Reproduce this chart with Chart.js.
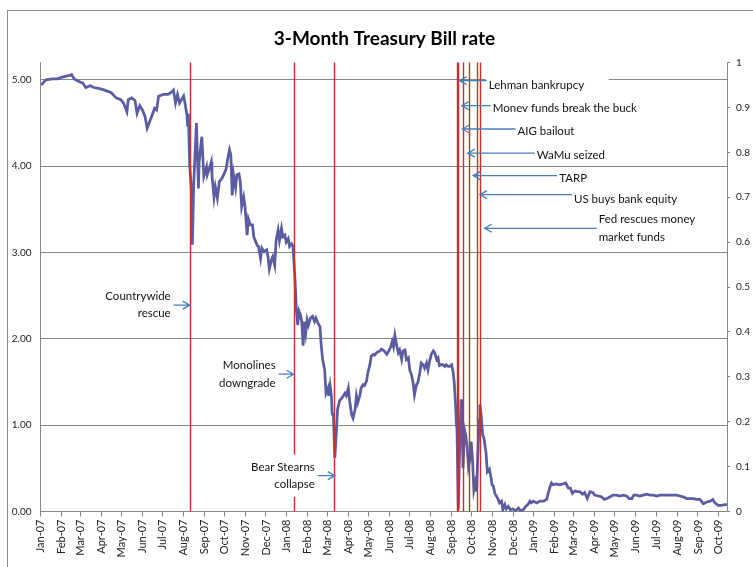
<!DOCTYPE html>
<html>
<head>
<meta charset="utf-8">
<title>3-Month Treasury Bill rate</title>
<script src="https://cdn.jsdelivr.net/npm/chart.js@4.4.0/dist/chart.umd.min.js"></script>
<style>
  html, body { margin: 0; padding: 0; background: #fff; }
  #wrap { width: 753px; height: 567px; }
</style>
</head>
<body>
<div id="wrap"><canvas id="chart" width="753" height="567"></canvas></div>
<script>
// data (weekly-ish samples of the daily series)
const dates = [
  "2007-01-02","2007-01-09","2007-01-19","2007-01-26","2007-02-02","2007-02-13","2007-02-16","2007-02-20","2007-02-27",
  "2007-03-05","2007-03-09","2007-03-16","2007-03-21","2007-03-28","2007-04-06","2007-04-16","2007-04-23","2007-04-30",
  "2007-05-04","2007-05-09","2007-05-11","2007-05-16","2007-05-21","2007-05-24","2007-05-28","2007-06-01","2007-06-05",
  "2007-06-08","2007-06-14","2007-06-19","2007-06-22","2007-06-25","2007-07-02","2007-07-09","2007-07-13","2007-07-17",
  "2007-07-20","2007-07-23","2007-07-26","2007-08-01","2007-08-03","2007-08-06","2007-08-07","2007-08-08","2007-08-10",
  "2007-08-13","2007-08-14","2007-08-16","2007-08-20","2007-08-23","2007-08-24","2007-08-28","2007-08-31","2007-09-04",
  "2007-09-05","2007-09-08","2007-09-11","2007-09-12","2007-09-15","2007-09-17","2007-09-20","2007-09-23","2007-09-27",
  "2007-10-01","2007-10-03","2007-10-06","2007-10-08","2007-10-10","2007-10-12","2007-10-14","2007-10-17","2007-10-19",
  "2007-10-22","2007-10-24","2007-10-26","2007-10-29","2007-10-31","2007-11-03","2007-11-05","2007-11-08","2007-11-11",
  "2007-11-13","2007-11-15","2007-11-18","2007-11-20","2007-11-23","2007-11-25","2007-11-28","2007-12-02","2007-12-04",
  "2007-12-06","2007-12-09","2007-12-11","2007-12-14","2007-12-16","2007-12-19","2007-12-21","2007-12-24","2007-12-26",
  "2007-12-29","2007-12-31",
  "2008-01-03","2008-01-05","2008-01-08","2008-01-10","2008-01-13","2008-01-15","2008-01-17","2008-01-19","2008-01-21",
  "2008-01-23","2008-01-25","2008-01-27","2008-01-29","2008-01-31","2008-02-02","2008-02-05","2008-02-08","2008-02-11",
  "2008-02-13","2008-02-16","2008-02-19","2008-02-21","2008-02-23","2008-02-26","2008-02-28","2008-03-02","2008-03-03",
  "2008-03-05","2008-03-07","2008-03-08","2008-03-10","2008-03-12","2008-03-14","2008-03-16","2008-03-19","2008-03-23",
  "2008-03-27","2008-03-29","2008-04-01","2008-04-03","2008-04-06","2008-04-08","2008-04-11","2008-04-13","2008-04-15",
  "2008-04-18","2008-04-20","2008-04-23","2008-04-25","2008-04-28","2008-04-30","2008-05-03","2008-05-05","2008-05-08",
  "2008-05-10","2008-05-13","2008-05-18","2008-05-20","2008-05-24","2008-05-28","2008-05-31","2008-06-03","2008-06-05",
  "2008-06-07","2008-06-09","2008-06-11","2008-06-14","2008-06-16","2008-06-19","2008-06-21","2008-06-24","2008-06-26",
  "2008-06-29","2008-07-01","2008-07-04","2008-07-06","2008-07-08","2008-07-11","2008-07-13","2008-07-16","2008-07-18",
  "2008-07-21","2008-07-23","2008-07-26","2008-07-28","2008-07-31","2008-08-02","2008-08-05","2008-08-07","2008-08-10",
  "2008-08-12","2008-08-14","2008-08-17","2008-08-19","2008-08-22","2008-08-24","2008-08-27","2008-08-29","2008-09-01",
  "2008-09-03","2008-09-05","2008-09-07","2008-09-08","2008-09-09","2008-09-11","2008-09-13","2008-09-15","2008-09-16",
  "2008-09-18","2008-09-20","2008-09-22","2008-09-24","2008-09-26","2008-09-28","2008-09-30","2008-10-02","2008-10-04",
  "2008-10-06","2008-10-08","2008-10-10","2008-10-12","2008-10-13","2008-10-15","2008-10-17","2008-10-19","2008-10-22",
  "2008-10-24","2008-10-27","2008-10-29","2008-10-31","2008-11-02","2008-11-04","2008-11-07","2008-11-09","2008-11-11",
  "2008-11-14","2008-11-16","2008-11-19","2008-11-21","2008-11-24","2008-11-27","2008-12-01","2008-12-05","2008-12-09",
  "2008-12-12","2008-12-16","2008-12-20","2008-12-23","2008-12-26","2008-12-28","2008-12-31",
  "2009-01-05","2009-01-10","2009-01-15","2009-01-20","2009-01-22","2009-01-25","2009-01-27","2009-01-29","2009-02-03",
  "2009-02-08","2009-02-13","2009-02-17","2009-02-21","2009-02-24","2009-02-27","2009-03-03","2009-03-06","2009-03-10",
  "2009-03-14","2009-03-17","2009-03-21","2009-03-25","2009-03-29","2009-04-01","2009-04-06","2009-04-11","2009-04-15",
  "2009-04-19","2009-04-24","2009-04-28","2009-05-03","2009-05-08","2009-05-13","2009-05-18","2009-05-22","2009-05-26",
  "2009-05-29","2009-06-02","2009-06-07","2009-06-12","2009-06-17","2009-06-22","2009-06-27","2009-07-02","2009-07-07",
  "2009-07-12","2009-07-17","2009-07-21","2009-07-26","2009-07-31","2009-08-05","2009-08-10","2009-08-15","2009-08-20",
  "2009-08-25","2009-08-30","2009-09-04","2009-09-06","2009-09-09","2009-09-14","2009-09-19","2009-09-23","2009-09-26",
  "2009-10-01","2009-10-06","2009-10-11","2009-10-14"
];
const rates = [
  4.94,5.00,5.01,5.01,5.03,5.05,5.06,5.01,4.98,
  4.96,4.91,4.93,4.91,4.90,4.88,4.85,4.79,4.77,
  4.73,4.63,4.77,4.79,4.76,4.61,4.70,4.65,4.57,
  4.44,4.56,4.67,4.65,4.81,4.83,4.83,4.85,4.88,
  4.73,4.83,4.73,4.81,4.73,4.59,4.46,4.61,4.01,
  3.67,3.09,3.80,4.50,3.74,4.05,4.34,3.88,3.99,
  3.90,3.97,4.05,3.90,3.64,3.76,3.63,3.82,3.86,
  3.93,3.97,4.11,4.19,4.13,3.66,3.90,3.75,3.90,
  3.91,3.82,3.53,3.64,3.53,3.20,3.39,3.32,3.32,
  3.18,3.14,3.08,3.07,2.93,3.05,3.01,3.03,2.95,
  2.81,2.91,2.95,2.85,3.14,3.26,3.14,3.28,3.18,
  3.20,3.12,
  3.16,3.07,3.10,3.07,2.70,2.34,2.16,2.32,2.28,
  2.20,1.92,2.20,2.07,2.22,2.16,2.24,2.26,2.20,
  2.24,2.18,2.14,1.91,1.76,1.64,1.37,1.43,1.34,
  1.46,1.34,1.14,1.10,0.62,0.87,1.18,1.28,1.32,
  1.37,1.34,1.43,1.28,1.12,1.08,1.18,1.34,1.26,
  1.34,1.43,1.47,1.46,1.51,1.61,1.70,1.80,1.82,
  1.81,1.84,1.86,1.88,1.86,1.82,1.86,1.91,1.97,
  1.91,2.04,1.95,1.84,1.87,1.76,1.86,1.87,1.76,
  1.78,1.64,1.57,1.49,1.35,1.47,1.49,1.61,1.72,
  1.70,1.66,1.72,1.64,1.76,1.82,1.86,1.84,1.76,
  1.78,1.69,1.70,1.70,1.68,1.70,1.68,1.68,1.70,
  1.63,1.49,1.22,1.03,0.95,0.03,0.75,1.30,1.15,
  0.50,0.95,0.88,0.75,0.52,0.60,0.81,0.60,0.25,
  0.33,0.23,0.68,1.06,1.24,1.10,0.89,0.85,0.68,
  0.46,0.49,0.41,0.31,0.29,0.21,0.17,0.14,0.10,
  0.12,0.02,0.08,0.03,0.06,0.02,0.03,0.01,0.04,
  0.01,0.02,0.06,0.08,0.12,0.10,0.12,
  0.10,0.12,0.12,0.14,0.21,0.29,0.33,0.31,0.32,
  0.31,0.32,0.33,0.27,0.27,0.21,0.24,0.23,0.23,
  0.20,0.22,0.15,0.23,0.22,0.19,0.18,0.17,0.14,
  0.15,0.17,0.19,0.19,0.18,0.19,0.18,0.15,0.15,
  0.19,0.19,0.18,0.19,0.20,0.19,0.19,0.18,0.19,
  0.19,0.19,0.19,0.19,0.19,0.18,0.17,0.15,0.15,
  0.15,0.14,0.14,0.12,0.09,0.11,0.12,0.14,0.10,
  0.07,0.07,0.08,0.08
];

const tickLabels = [
  "Jan-07","Feb-07","Mar-07","Apr-07","May-07","Jun-07","Jul-07","Aug-07","Sep-07","Oct-07","Nov-07","Dec-07",
  "Jan-08","Feb-08","Mar-08","Apr-08","May-08","Jun-08","Jul-08","Aug-08","Sep-08","Oct-08","Nov-08","Dec-08",
  "Jan-09","Feb-09","Mar-09","Apr-09","May-09","Jun-09","Jul-09","Aug-09","Sep-09","Oct-09"
];
const leftTicks = [0, 1, 2, 3, 4, 5];
const leftTickLabels = ["0.00", "1.00", "2.00", "3.00", "4.00", "5.00"];
const rightTicks = [0, 0.1, 0.2, 0.3, 0.4, 0.5, 0.6, 0.7, 0.8, 0.9, 1];
const rightTickLabels = ["0", "0.1", "0.2", "0.3", "0.4", "0.5", "0.6", "0.7", "0.8", "0.9", "1"];

// red event lines
const eventDates = [
  "2007-08-10", "2008-01-11", "2008-03-11",
  "2008-09-09", "2008-09-11", "2008-09-18", "2008-09-27", "2008-10-08", "2008-10-13"
];

// callouts: text, date the arrow points at, rate (left axis) of the arrow
const noteTexts = [
  ["Countrywide", "rescue"],
  ["Monolines", "downgrade"],
  ["Bear Stearns", "collapse"],
  ["Lehman bankrupcy"],
  ["Monev funds break the buck"],
  ["AIG bailout"],
  ["WaMu seized"],
  ["TARP"],
  ["US buys bank equity"],
  ["Fed rescues money", "market funds"]
];
const noteDates = [
  "2007-08-10", "2008-01-11", "2008-03-12", "2008-09-13", "2008-09-16",
  "2008-09-17", "2008-09-25", "2008-10-03", "2008-10-13", "2008-10-20"
];
const noteRates = [2.39, 1.59, 0.415, 4.99, 4.70, 4.43, 4.15, 3.89, 3.67, 3.28];

// how each callout is laid out (side of the text, arrow length, text offset, white box)
const noteLayout = [
  { side: "left", len: 16 },
  { side: "left", len: 15 },
  { side: "left", len: 17, box: true },
  { side: "right", len: 27, dy: 5, boxW: 123 },
  { side: "right", len: 29, dy: 3 },
  { side: "right", len: 53, dy: 2.5 },
  { side: "right", len: 67, dy: 2.5 },
  { side: "right", len: 84, dy: 2.5 },
  { side: "right", len: 92, dy: 5 },
  { side: "right", len: 112 }
];

const DAY0 = Date.UTC(2007, 0, 1);
const MONTHS = ["Jan","Feb","Mar","Apr","May","Jun","Jul","Aug","Sep","Oct","Nov","Dec"];
const dayOf = s => (Date.parse(s) - DAY0) / 864e5;
const monthDay = label => {
  const [m, y] = label.split("-");
  return (Date.UTC(2000 + Number(y), MONTHS.indexOf(m), 1) - DAY0) / 864e5;
};

const points = dates.map((d, i) => ({ x: dayOf(d), y: rates[i] }));

const GREY = "#868686";
const FONT = "Lato, Carlito, 'Open Sans', sans-serif";

const overlay = {
  id: "overlay",
  beforeDraw(chart) {
    const ctx = chart.ctx;
    ctx.save();
    ctx.fillStyle = "#fff";
    ctx.fillRect(0, 0, chart.width, chart.height);
    ctx.strokeStyle = "#8c8c8c";
    ctx.lineWidth = 1;
    ctx.strokeRect(7.5, 10.5, chart.width + 20, chart.height + 20);
    ctx.restore();
  },
  afterDatasetsDraw(chart) {
    const { ctx, chartArea: a, scales: { x, y } } = chart;
    ctx.save();

    ctx.strokeStyle = "#d42a2a";
    ctx.lineWidth = 1.4;
    eventDates.forEach(d => {
      const px = Math.round(x.getPixelForValue(dayOf(d))) + 0.5;
      ctx.beginPath();
      ctx.moveTo(px, a.top);
      ctx.lineTo(px, a.bottom);
      ctx.stroke();
    });

    ctx.font = "11.5px " + FONT;
    ctx.textBaseline = "middle";
    const lh = 17.3;
    noteTexts.forEach((lines, i) => {
      const lay = noteLayout[i];
      const tipX = x.getPixelForValue(dayOf(noteDates[i]));
      const tipY = y.getPixelForValue(noteRates[i]);
      const left = lay.side === "left";
      const tailX = left ? tipX - lay.len : tipX + lay.len;
      const w = Math.max(...lines.map(t => ctx.measureText(t).width));
      const cy = tipY + (lay.dy || 0);
      const y0 = cy - (lines.length - 1) * lh / 2;
      const textX = left ? tailX - 3 : tailX + 2;
      const boxL = left ? textX - w : textX;

      if (lay.box || lay.boxW) {
        ctx.fillStyle = "#fff";
        const bw = lay.boxW || w + 6;
        const top = y0 - (lay.boxW ? 10 : 12.5);
        const bottom = y0 + (lines.length - 1) * lh + (lay.boxW ? 10 : 12.5);
        ctx.fillRect(boxL - 3, top, bw, bottom - top);
      }

      ctx.fillStyle = "#111";
      ctx.textAlign = left ? "right" : "left";
      lines.forEach((t, k) => ctx.fillText(t, textX, y0 + k * lh));

      // arrow
      const u = left ? 1 : -1;
      ctx.strokeStyle = "#4a7ebb";
      ctx.lineWidth = 1.3;
      ctx.beginPath();
      ctx.moveTo(tailX, tipY);
      ctx.lineTo(tipX, tipY);
      ctx.moveTo(tipX - u * 7, tipY - 4);
      ctx.lineTo(tipX, tipY);
      ctx.lineTo(tipX - u * 7, tipY + 4);
      ctx.stroke();
    });
    ctx.restore();
  }
};

new Chart(document.getElementById("chart"), {
  type: "line",
  data: {
    datasets: [{
      data: points,
      borderColor: "#5c5ca3",
      borderWidth: 2.75,
      pointRadius: 0,
      tension: 0,
      yAxisID: "y"
    }]
  },
  options: {
    responsive: false,
    animation: false,
    // the chart box runs past the right edge of the picture, so the title centres a bit right of the middle
    layout: { padding: { left: 0, right: -16, top: 0, bottom: 0 } },
    plugins: {
      legend: { display: false },
      tooltip: { enabled: false },
      title: {
        display: true,
        text: "3-Month Treasury Bill rate",
        color: "#000",
        font: { family: FONT, size: 19, weight: "bold" },
        padding: { top: 27, bottom: 12.7 }
      }
    },
    scales: {
      x: {
        type: "linear",
        min: 0,
        max: dayOf(dates[dates.length - 1]),
        afterBuildTicks: s => { s.ticks = tickLabels.map(l => ({ value: monthDay(l) })); },
        afterFit: s => { s.height = 55.5; },
        ticks: {
          autoSkip: false, minRotation: 90, maxRotation: 90, padding: 3,
          color: "#222", font: { family: FONT, size: 11 },
          callback: (v, i) => tickLabels[i]
        },
        grid: { drawOnChartArea: false, drawTicks: true, tickLength: 5, color: GREY },
        border: { color: GREY }
      },
      y: {
        position: "left",
        min: 0,
        max: 5.2,
        afterBuildTicks: s => { s.ticks = leftTicks.map(v => ({ value: v })); },
        afterFit: s => { s.width = 40.5; },
        ticks: {
          padding: 9, color: "#222", font: { family: FONT, size: 10 },
          callback: (v, i) => leftTickLabels[i]
        },
        grid: { color: GREY, drawTicks: false },
        border: { color: GREY }
      },
      y2: {
        position: "right",
        min: 0,
        max: 1,
        afterBuildTicks: s => { s.ticks = rightTicks.map(v => ({ value: v })); },
        afterFit: s => { s.width = 42; },
        ticks: {
          padding: 6, color: "#222", font: { family: FONT, size: 10 },
          callback: (v, i) => rightTickLabels[i]
        },
        grid: { drawOnChartArea: false, drawTicks: true, tickLength: 3, color: GREY },
        border: { color: GREY }
      }
    }
  },
  plugins: [overlay]
});
</script>
</body>
</html>
